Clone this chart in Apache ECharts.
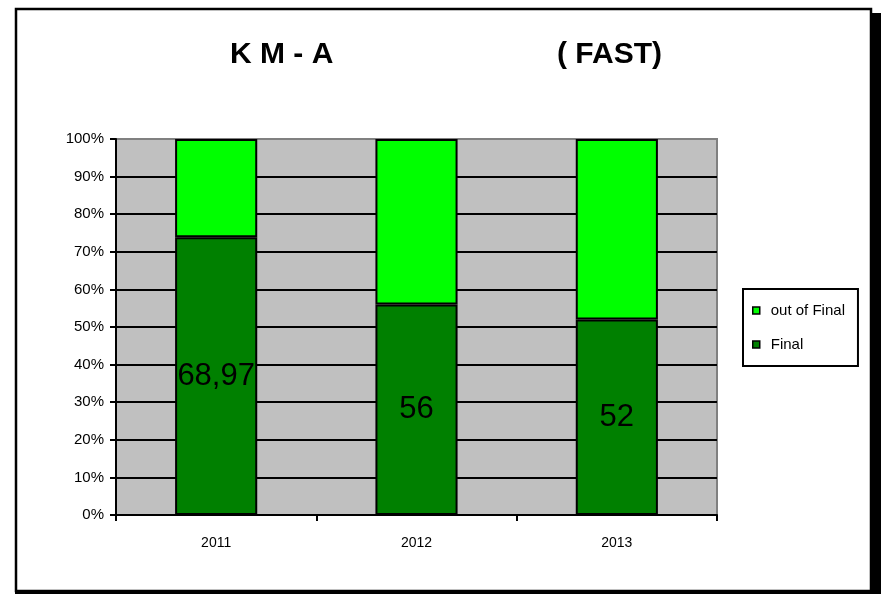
<!DOCTYPE html>
<html>
<head>
<meta charset="utf-8">
<script src="https://cdn.jsdelivr.net/npm/echarts@6/dist/echarts.min.js"></script>
<style>
  html, body { margin: 0; padding: 0; background: #fff; }
  #chart { width: 882px; height: 594px; }
</style>
</head>
<body>
<div id="chart"></div>
<script>
// Years on the category axis
const years = ['2011', '2012', '2013'];
// Raw counts per year
const finalValues = [68.97, 56, 52];
const outOfFinalValues = [24.4, 44, 48];
// Value axis ticks (percent)
const yTicks = { min: 0, max: 100, interval: 10 };

// 100% stacking: each year's share of the total
const totals = years.map((_, i) => finalValues[i] + outOfFinalValues[i]);
const finalPct = finalValues.map((v, i) => v / totals[i] * 100);
const outPct = outOfFinalValues.map((v, i) => v / totals[i] * 100);

const FONT = 'Liberation Sans, Arial, sans-serif';
const chart = echarts.init(document.getElementById('chart'), null, { renderer: 'canvas' });

chart.setOption({
  animation: false,
  backgroundColor: '#ffffff',
  title: [
    { text: 'K M - A', left: 225, top: 35,
      textStyle: { fontFamily: FONT, fontSize: 30, fontWeight: 'bold', color: '#000' } },
    { text: '( FAST)', left: 552, top: 35,
      textStyle: { fontFamily: FONT, fontSize: 30, fontWeight: 'bold', color: '#000' } }
  ],
  grid: {
    left: 116, right: 165, top: 139, bottom: 79,
    show: true, backgroundColor: '#c0c0c0', borderColor: '#808080', borderWidth: 2
  },
  legend: {
    orient: 'vertical',
    left: 743, top: 289,
    data: ['out of Final', 'Final'],
    icon: 'rect',
    itemWidth: 7, itemHeight: 7,
    itemGap: 19,
    padding: [14, 13, 14, 9],
    borderColor: '#000', borderWidth: 2,
    backgroundColor: '#fff',
    textStyle: { fontFamily: FONT, fontSize: 15, color: '#000', padding: [0, 0, 0, 6] },
    itemStyle: { borderColor: '#000', borderWidth: 1.5 }
  },
  xAxis: {
    type: 'category',
    data: years,
    boundaryGap: true,
    axisLine: { lineStyle: { color: '#000', width: 2 } },
    axisTick: { show: true, length: 6, lineStyle: { color: '#000', width: 2 } },
    axisLabel: { fontFamily: FONT, fontSize: 14, color: '#000', margin: 21 },
    splitLine: { show: false }
  },
  yAxis: {
    type: 'value',
    min: yTicks.min, max: yTicks.max, interval: yTicks.interval,
    axisLine: { show: true, lineStyle: { color: '#000', width: 2 } },
    axisTick: { show: true, length: 6, lineStyle: { color: '#000', width: 2 } },
    axisLabel: { fontFamily: FONT, fontSize: 15, color: '#000', margin: 12,
      formatter: '{value}%' },
    splitLine: { show: true, showMinLine: false, showMaxLine: false,
      lineStyle: { color: '#000', width: 2 } }
  },
  series: [
    {
      name: 'Final',
      type: 'bar',
      stack: 'total',
      barWidth: '41%',
      data: finalPct,
      itemStyle: { color: '#008000', borderColor: '#000', borderWidth: 2 },
      label: {
        show: true, position: 'inside',
        fontFamily: FONT, fontSize: 31, color: '#000',
        formatter: p => String(finalValues[p.dataIndex]).replace('.', ',')
      }
    },
    {
      name: 'out of Final',
      type: 'bar',
      stack: 'total',
      barWidth: '41%',
      data: outPct,
      itemStyle: { color: '#00ff00', borderColor: '#000', borderWidth: 2 }
    }
  ],
  graphic: [
    // drop shadow on the right and bottom of the frame
    { type: 'rect', shape: { x: 872, y: 13, width: 9, height: 581 }, style: { fill: '#000' }, silent: true },
    { type: 'rect', shape: { x: 15, y: 591, width: 866, height: 3 }, style: { fill: '#000' }, silent: true },
    // outer frame
    { type: 'rect', shape: { x: 16, y: 9, width: 855, height: 582 },
      style: { fill: 'none', stroke: '#000', lineWidth: 2.5 }, silent: true, z: 100 }
  ]
});
</script>
</body>
</html>
